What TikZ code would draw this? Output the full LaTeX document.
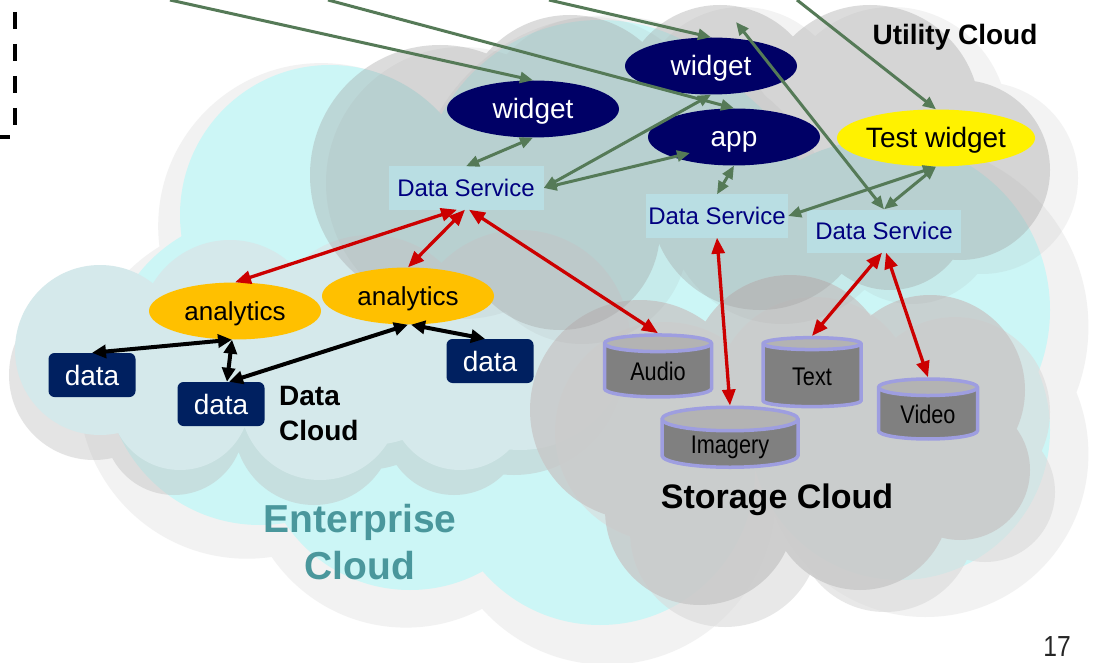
\documentclass[tikz,border=0pt]{standalone}
\usepackage{fontspec}
\setmainfont{Liberation Sans}
\newfontfamily\narrowf[FakeStretch=0.85]{Liberation Sans}
\usetikzlibrary{arrows.meta,shapes.geometric,calc}
\definecolor{entc}{HTML}{CCF6F6}
\definecolor{entsh}{HTML}{F2F2F2}
\definecolor{datac}{HTML}{D5E9EB}
\definecolor{datash}{HTML}{BDBDBD}
\definecolor{utilc}{HTML}{A2A2A2}
\definecolor{storc}{HTML}{C8C8C8}
\definecolor{storsh}{HTML}{DADADA}
\definecolor{navyw}{HTML}{000066}
\definecolor{navyd}{HTML}{002060}
\definecolor{dsfill}{HTML}{B9DEE3}
\definecolor{dstext}{HTML}{000080}
\definecolor{orng}{HTML}{FFC000}
\definecolor{garr}{HTML}{557A57}
\definecolor{rarr}{HTML}{CC0000}
\definecolor{lav}{HTML}{9E9EE0}
\definecolor{cylbody}{HTML}{808080}
\definecolor{cyltop}{HTML}{B3B3B3}
\definecolor{entText}{HTML}{4A979C}
\def\entL{330/215/150,260/370/155,410/440/150,600/470/155,620/250/200,600/200/180,880/310/170,900/430/150}
\def\datL{100/350/85,230/330/90,370/340/105,520/340/110,180/400/70,320/400/80,460/400/70}
\def\stoL{640/410/110,790/375/100,930/390/95,700/510/95,860/500/90,960/470/70,800/440/110}
\def\utiL{440/175/130,570/125/110,720/105/100,870/115/110,960/170/90,560/230/100,760/200/110,890/210/80}
\begin{document}
\begin{tikzpicture}[x=1pt,y=-1pt,
  wdg/.style={ellipse, text height=20pt, text depth=0pt, fill=navyw, text=white, minimum width=172pt, minimum height=57pt, inner sep=0pt, font=\fontsize{28}{34}\selectfont},
  twdg/.style={wdg, fill=yellow, text=black},
  anl/.style={ellipse, text height=18.6pt, text depth=0pt, fill=orng, text=black, minimum width=172pt, minimum height=57pt, inner sep=0pt, font=\fontsize{26}{31}\selectfont},
  dsbox/.style={rectangle, text height=17.2pt, text depth=0pt, fill=dsfill, text=dstext, minimum height=43pt, inner sep=0pt, font=\fontsize{24}{29}\selectfont},
  dbox/.style={rectangle, text height=20pt, text depth=0pt, rounded corners=6pt, fill=navyd, text=white, minimum width=87pt, minimum height=44pt, inner sep=0pt, font=\fontsize{28}{34}\selectfont},
  cyl/.style={cylinder, text height=18pt, text depth=0pt, shape border rotate=90, draw=lav, line width=3.5pt, cylinder uses custom fill, cylinder body fill=cylbody, cylinder end fill=cyltop, aspect=0.3, inner sep=0pt, font=\narrowf\fontsize{25.5}{30}\selectfont},
  garrow/.style={draw=garr, line width=3pt, -{Triangle[length=13pt,width=11pt]}},
  gdbl/.style={draw=garr, line width=3pt, {Triangle[length=13pt,width=11pt]}-{Triangle[length=13pt,width=11pt]}},
  rdbl/.style={draw=rarr, line width=3.3pt, {Triangle[length=16pt,width=13pt]}-{Triangle[length=16pt,width=13pt]}},
  bdbl/.style={draw=black, line width=4pt, {Triangle[length=14pt,width=13pt]}-{Triangle[length=14pt,width=13pt]}},
  cloudlbl/.style={font=\bfseries\fontsize{28}{35}\selectfont, inner sep=0pt}
]
\useasboundingbox (0,0) rectangle (1105,663);
\fill[white] (0,0) rectangle (1105,663);
% Enterprise cloud
\fill[entsh] \foreach \cx/\cy/\cr in \entL {({560+1.06*(\cx-560)+5},{330+1.06*(\cy-330)+18}) circle[radius={1.06*\cr+4}]};
\fill[entc] \foreach \cx/\cy/\cr in \entL {(\cx,\cy) circle[radius=\cr]};
% Data cloud
\fill[datash, opacity=0.4] \foreach \cx/\cy/\cr in \datL {({\cx-6},{\cy+25}) circle[radius=\cr]};
\fill[datac] \foreach \cx/\cy/\cr in \datL {(\cx,\cy) circle[radius=\cr]};
% Storage cloud
\fill[storsh, opacity=0.6] \foreach \cx/\cy/\cr in \stoL {({\cx+25},{\cy+22}) circle[radius=\cr]};
\fill[storc, opacity=0.8] \foreach \cx/\cy/\cr in \stoL {(\cx,\cy) circle[radius=\cr]};
% Utility cloud
\fill[utilc, opacity=0.12] \foreach \cx/\cy/\cr in \utiL {({\cx+22},{\cy+8}) circle[radius={\cr+6}]};
\fill[utilc, opacity=0.37] \foreach \cx/\cy/\cr in \utiL {(\cx,\cy) circle[radius=\cr]};
% dashed fragment top-left
\draw[line width=4pt, dash pattern=on 17pt off 15pt] (15,12) -- (15,130);
\draw[line width=4pt] (0,137) -- (10,137);
% labels
\node[cloudlbl] (utl) at (955,37) {Utility Cloud};
\node[cloudlbl, align=left, anchor=west] (dcl) at (279,414) {Data\\Cloud};
\node[cloudlbl, font=\bfseries\fontsize{34}{40}\selectfont] (stl) at (777,500) {Storage Cloud};
\node[cloudlbl, text=entText, align=center, font=\bfseries\fontsize{39}{47}\selectfont] (ent) at (360,542) {Enterprise\\Cloud};
\node[font=\narrowf\fontsize{29}{35}\selectfont, text=black!85, inner sep=0pt, text height=21pt, text depth=0pt, anchor=south] (pg) at (1057,657) {17};
% nodes
\node[wdg] (w1) at (533,109) {widget};
\node[wdg] (w2) at (711,66) {widget};
\node[wdg] (app) at (734,137) {app};
\node[twdg] (tw) at (936,138) {Test widget};
\node[dsbox, minimum width=155pt] (ds1) at (466,188) {Data Service};
\node[dsbox, minimum width=142pt] (ds2) at (717,216) {Data Service};
\node[dsbox, minimum width=154pt] (ds3) at (884,231) {Data Service};
\node[anl] (an1) at (235,311) {analytics};
\node[anl] (an2) at (408,296) {analytics};
\node[dbox] (d1) at (92,375) {data};
\node[dbox] (d2) at (221,404) {data};
\node[dbox] (d3) at (490,361) {data};
\node[cyl, minimum width=107pt, minimum height=62pt] (audio) at (658,371) {Audio};
\node[cyl, minimum width=136pt, minimum height=60pt] (imagery) at (730,444) {Imagery};
\node[cyl, minimum width=98pt, minimum height=69pt] (text) at (812,376) {Text};
\node[cyl, minimum width=99pt, minimum height=60pt] (video) at (928,414) {Video};
% free ends
\coordinate (t1) at (170,0);
\coordinate (t2) at (328,0);
\coordinate (t3) at (549,0);
\coordinate (t4) at (797,0);
\coordinate (c5) at (736,22);
% green arrows
\draw[garrow] (t1) -- (w1.north);
\draw[garrow] (t2) -- (app.north);
\draw[garrow] (t3) -- (w2.north);
\draw[garrow] (t4) -- (tw.north);
\draw[gdbl] (c5) -- (ds3.north);
\draw[gdbl] (ds1.north) -- (w1.south);
\draw[gdbl] (ds1.east) -- (w2.south);
\draw[gdbl] (ds1.east) -- ($(app.center)+(-44,16)$);
\draw[gdbl] (app.south) -- (ds2.north);
\draw[gdbl] (tw.south) -- (ds2.east);
\draw[gdbl] (tw.south) -- (ds3.north);
% red arrows
\draw[rdbl] ($(ds1.south)+(-9,0)$) -- (an1.north);
\draw[rdbl] ($(ds1.south)+(-1,0)$) -- (an2.north);
\draw[rdbl] ($(ds1.south)+(3,0)$) -- (audio.north);
\draw[rdbl] (ds2.south) -- (imagery.north);
\draw[rdbl] ($(ds3.south)+(-2,0)$) -- (text.north);
\draw[rdbl] ($(ds3.south)+(2,0)$) -- (video.north);
% black arrows
\draw[bdbl] ($(an1.south)+(-3,0)$) -- (d1.north);
\draw[bdbl] ($(an1.south)+(-3,0)$) -- ($(d2.north)+(6,0)$);
\draw[bdbl] ($(d2.north)+(8,0)$) -- (an2.south);
\draw[bdbl] ($(an2.south)+(3,0)$) -- ($(d3.north)+(-5,0)$);
\end{tikzpicture}
\end{document}
